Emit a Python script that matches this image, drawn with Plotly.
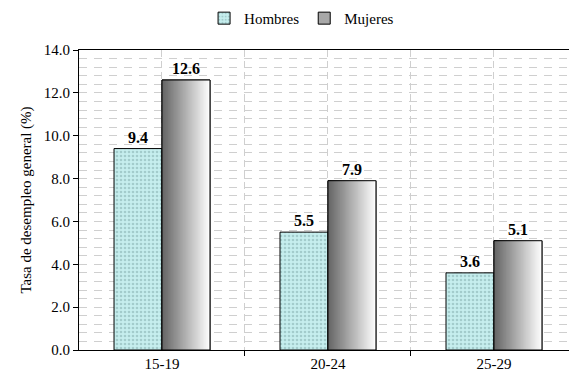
import plotly.graph_objects as go

# Unemployment rate by age group and sex
categories = ["15-19", "20-24", "25-29"]
hombres = [9.4, 5.5, 3.6]
mujeres = [12.6, 7.9, 5.1]
y_ticks = [0, 2, 4, 6, 8, 10, 12, 14]

FONT = "Liberation Serif, Times New Roman, serif"
BAR_W = 0.289          # width of each bar in category units
N_SLICES = 40          # strips used to build the grey gradient

xs = list(range(len(categories)))

fig = go.Figure()

# Hombres: light cyan with a dotted pattern
fig.add_trace(go.Bar(
    x=xs, y=hombres, name="Hombres",
    offset=-BAR_W, width=BAR_W,
    marker=dict(color="#c6eeee",
                line=dict(color="black", width=1),
                pattern=dict(shape=".", fgcolor="#7fa9a9", bgcolor="#c6eeee",
                             size=4, solidity=0.35)),
    text=[f"{v:.1f}" for v in hombres], textposition="outside",
    textfont=dict(family=FONT, size=16, color="black", weight="bold"),
    cliponaxis=False,
))

# Mujeres: base bar (also gives the legend swatch)
fig.add_trace(go.Bar(
    x=xs, y=mujeres, name="Mujeres",
    offset=0, width=BAR_W,
    marker=dict(color="#a8a8a8", line=dict(color="black", width=1)),
))

# Horizontal grey gradient, dark on the left to white on the right
c0, c1 = 100, 255
step = BAR_W / N_SLICES
for k in range(N_SLICES):
    t = (k + 0.5) / N_SLICES
    c = int(round(c0 + (c1 - c0) * t))
    fig.add_trace(go.Bar(
        x=xs, y=mujeres, showlegend=False, hoverinfo="skip",
        offset=k * step, width=BAR_W - k * step,
        marker=dict(color=f"rgb({c},{c},{c})", line=dict(width=0)),
    ))

# Outline and value labels on top of the gradient
fig.add_trace(go.Bar(
    x=xs, y=mujeres, showlegend=False, hoverinfo="skip",
    offset=0, width=BAR_W,
    marker=dict(color="rgba(0,0,0,0)", line=dict(color="black", width=1)),
    text=[f"{v:.1f}" for v in mujeres], textposition="outside",
    textfont=dict(family=FONT, size=16, color="black", weight="bold"),
    cliponaxis=False,
))

grid_col = "#cfcfcf"

fig.update_layout(
    width=569, height=379,
    margin=dict(l=79, r=0, t=50, b=29),
    barmode="overlay",
    plot_bgcolor="white", paper_bgcolor="white",
    font=dict(family=FONT, size=15, color="black"),
    showlegend=True,
    legend=dict(orientation="h", xref="container", yref="container",
                x=0.53, y=0.995, xanchor="center", yanchor="top",
                font=dict(family=FONT, size=15),
                itemwidth=30, tracegroupgap=0,
                bgcolor="rgba(0,0,0,0)"),
    xaxis=dict(
        range=[-0.5, 2.452],
        tickvals=xs, ticktext=categories,
        ticks="", showline=True, linecolor="black", linewidth=1, mirror=True,
        showgrid=True, gridcolor=grid_col, griddash="7px,4px", gridwidth=1,
        zeroline=False,
        tickfont=dict(family=FONT, size=15),
        minor=dict(tickvals=[0.5, 1.5], ticks="outside", ticklen=5,
                   tickcolor="black", showgrid=True, gridcolor=grid_col,
                   griddash="7px,4px", gridwidth=1),
    ),
    yaxis=dict(
        range=[0, 14], tickvals=y_ticks, tickformat=".1f",
        ticks="outside", ticklen=5, tickcolor="black",
        showline=True, linecolor="black", linewidth=1,
        showgrid=True, gridcolor=grid_col, griddash="8px,7px", gridwidth=1,
        zeroline=False,
        tickfont=dict(family=FONT, size=15),
        title=dict(text="Tasa de desempleo general (%)",
                   font=dict(family=FONT, size=15), standoff=8),
        minor=dict(dtick=0.4, tick0=0, showgrid=True, gridcolor=grid_col,
                   griddash="8px,7px", gridwidth=1),
    ),
)

fig.write_html("out.html")
